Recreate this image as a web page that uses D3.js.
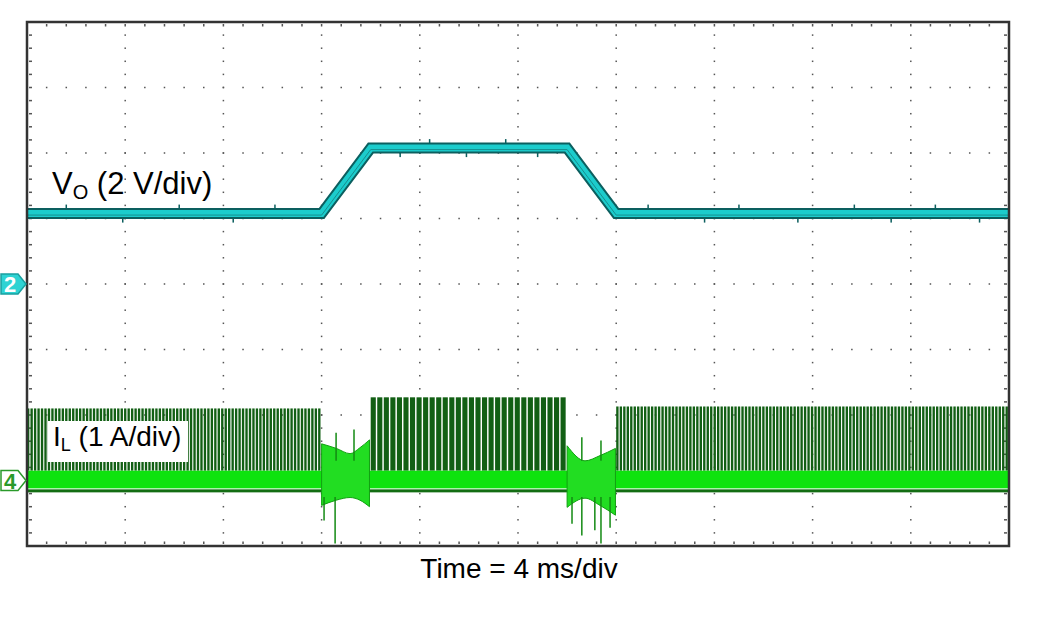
<!DOCTYPE html>
<meta charset="utf-8">
<script src="https://d3js.org/d3.v7.min.js"></script>
<style>
  body { margin: 0; background: #fff; }
  text { font-family: "Liberation Sans", Arial, sans-serif; }
</style>
<div id="scope"></div>
<script>

// time axis: 4 ms/div, 10 divisions
var timeRange = [0, 40];

// Vo trace (ms, V)
var voTime = [0, 12.0, 14.0, 22.0, 24.0, 40];
var voVolts = [2.15, 2.15, 4.15, 4.15, 2.15, 2.15];

// small noise ticks on Vo (ms)
var voNoiseTime = [1.6, 3.9, 6.2, 8.4, 10.1, 15.2, 16.4, 17.9, 19.5, 20.8, 25.3, 27.6, 29.0, 31.4, 33.7, 35.2, 37.0, 38.8];

// IL switching bursts
var burstStart = [0, 14.0, 24.0];
var burstEnd = [12.0, 22.0, 40];
var burstCount = [85, 30, 113];
var burstPeak = [1.10, 1.27, 1.13];
var burstDuty = [0.68, 0.78, 0.68];

// IL baseline band (A)
var bandTop = 0.15, bandBottom = -0.12;

// transition envelopes (ms, top A, bottom A)
var env1Time = [12.0, 12.6, 13.16, 13.56, 13.95];
var env1Top = [0.56, 0.49, 0.41, 0.50, 0.62];
var env1Bottom = [-0.38, -0.30, -0.26, -0.30, -0.40];
var env2Time = [22.0, 22.73, 23.34, 23.97];
var env2Top = [0.53, 0.30, 0.38, 0.49];
var env2Bottom = [-0.41, -0.27, -0.38, -0.53];

// spikes inside transitions (ms, A)
var spikeTime = [12.1, 12.55, 12.59, 13.32, 22.2, 22.6, 22.6, 23.13, 23.38, 23.38, 23.75];
var spikeAmp = [-0.61, -0.96, 0.73, 0.78, -0.66, 0.66, -0.84, -0.76, 0.61, -0.96, -0.72];

var W = 1047, H = 628;
var pLeft = 27, pRight = 1009, pTop = 22, pBottom = 546;

var svg = d3.select("#scope").append("svg")
  .attr("width", W).attr("height", H);

var x = d3.scaleLinear().domain(timeRange).range([pLeft, pRight]);
var yV = d3.scaleLinear().domain([-8, 8]).range([pBottom, pTop]);
var yI = d3.scaleLinear().domain([-1, 7]).range([pBottom, pTop]);

var divX = (pRight - pLeft) / 10, divY = (pBottom - pTop) / 8;

// dotted grid
var grid = svg.append("g").attr("fill", "#555");
for (var i = 1; i < 10; i++) {
  for (var k = 0; k <= 40; k++) {
    grid.append("rect").attr("x", pLeft + i * divX - 0.75)
      .attr("y", pTop + k * divY / 5 - 0.75).attr("width", 1.5).attr("height", 1.5);
  }
}
for (var j = 1; j < 8; j++) {
  for (var k = 0; k <= 50; k++) {
    grid.append("rect").attr("x", pLeft + k * divX / 5 - 0.75)
      .attr("y", pTop + j * divY - 0.75).attr("width", 1.5).attr("height", 1.5);
  }
}
// small edge ticks
var ticks = svg.append("g").attr("fill", "#555");
for (var k = 1; k < 50; k++) {
  var tx = pLeft + k * divX / 5;
  ticks.append("rect").attr("x", tx - 0.75).attr("y", pTop + 2).attr("width", 1.5).attr("height", 2.5);
  ticks.append("rect").attr("x", tx - 0.75).attr("y", pBottom - 4.5).attr("width", 1.5).attr("height", 2.5);
}
for (var k = 1; k < 40; k++) {
  var ty = pTop + k * divY / 5;
  ticks.append("rect").attr("x", pLeft + 2).attr("y", ty - 0.75).attr("width", 3).attr("height", 1.5);
  ticks.append("rect").attr("x", pRight - 5).attr("y", ty - 0.75).attr("width", 3).attr("height", 1.5);
}

// IL bursts
var pulses = svg.append("g");
burstStart.forEach(function(s, b) {
  var period = (burstEnd[b] - s) / burstCount[b];
  for (var n = 0; n < burstCount[b]; n++) {
    var t0 = s + n * period;
    pulses.append("rect")
      .attr("x", x(t0))
      .attr("y", yI(burstPeak[b]))
      .attr("width", x(t0 + period * burstDuty[b]) - x(t0))
      .attr("height", yI(bandTop) - yI(burstPeak[b]))
      .attr("fill", "#125f14");
  }
});

// IL baseline band
svg.append("rect").attr("x", x(0)).attr("width", x(40) - x(0))
  .attr("y", yI(bandBottom) + 1).attr("height", 3).attr("fill", "#136d13");
svg.append("rect").attr("x", x(0)).attr("width", x(40) - x(0))
  .attr("y", yI(bandTop)).attr("height", yI(bandBottom) - yI(bandTop))
  .attr("fill", "#0ee30e");

// transition envelopes
var area = d3.area()
  .curve(d3.curveMonotoneX)
  .x(function(d) { return x(d[0]); })
  .y0(function(d) { return yI(d[2]); })
  .y1(function(d) { return yI(d[1]); });
[[env1Time, env1Top, env1Bottom], [env2Time, env2Top, env2Bottom]].forEach(function(e) {
  var pts = e[0].map(function(t, i) { return [t, e[1][i], e[2][i]]; });
  svg.append("path").datum(pts).attr("d", area)
    .attr("fill", "#22dd22").attr("stroke", "#12a012").attr("stroke-width", 1);
});
svg.append("g").selectAll("line").data(spikeTime).join("line")
  .attr("x1", function(d) { return x(d); }).attr("x2", function(d) { return x(d); })
  .attr("y1", function(d, i) { return yI(spikeAmp[i] > 0 ? 0.3 : -0.25); })
  .attr("y2", function(d, i) { return yI(spikeAmp[i]); })
  .attr("stroke", "#138a13").attr("stroke-width", 1.5);

// Vo trace
var voPts = voTime.map(function(t, i) { return [t, voVolts[i]]; });
var line = d3.line().x(function(d) { return x(d[0]); }).y(function(d) { return yV(d[1]); });
svg.append("path").datum(voPts).attr("d", line)
  .attr("fill", "none").attr("stroke", "#0c5f5f").attr("stroke-width", 11);
svg.append("path").datum(voPts).attr("d", line)
  .attr("fill", "none").attr("stroke", "#1ccccc").attr("stroke-width", 7);
svg.append("path").datum(voPts).attr("d", line).attr("transform", "translate(0,1.5)")
  .attr("fill", "none").attr("stroke", "#168f8f").attr("stroke-width", 1);
// noise ticks
var voAt = function(t) {
  var i = d3.bisectRight(voTime, t) - 1;
  var f = (t - voTime[i]) / (voTime[i + 1] - voTime[i]);
  return voVolts[i] + f * (voVolts[i + 1] - voVolts[i]);
};
svg.append("g").selectAll("rect").data(voNoiseTime).join("rect")
  .attr("x", function(d) { return x(d) - 0.75; })
  .attr("y", function(d, i) { return yV(voAt(d)) + (i % 2 ? 5 : -9); })
  .attr("width", 1.5).attr("height", 4)
  .attr("fill", "#0c5f5f");

// frame
svg.append("rect").attr("x", pLeft).attr("y", pTop)
  .attr("width", pRight - pLeft).attr("height", pBottom - pTop)
  .attr("fill", "none").attr("stroke", "#333").attr("stroke-width", 2.5);

// labels
var vo = svg.append("text").attr("x", 52).attr("y", 194).attr("font-size", 31).attr("fill", "#000");
vo.append("tspan").text("V");
vo.append("tspan").text("O").attr("font-size", 20).attr("dy", 5);
vo.append("tspan").text(" (2 V/div)").attr("dy", -5);

svg.append("rect").attr("x", 48).attr("y", 421).attr("width", 140).attr("height", 41).attr("fill", "#fff");
var il = svg.append("text").attr("x", 53).attr("y", 446).attr("font-size", 28).attr("fill", "#000");
il.append("tspan").text("I");
il.append("tspan").text("L").attr("font-size", 18).attr("dy", 5);
il.append("tspan").text(" (1 A/div)").attr("dy", -5);

svg.append("text").attr("x", 519).attr("y", 578).attr("text-anchor", "middle")
  .attr("font-size", 28).attr("fill", "#000").text("Time = 4 ms/div");

// channel markers
function marker(yPos, fill, stroke, label, color) {
  var g = svg.append("g").attr("transform", "translate(0," + yPos + ")");
  g.append("path").attr("d", "M1,-10 L18,-10 L26,0 L18,10 L1,10 Z")
    .attr("fill", fill).attr("stroke", stroke).attr("stroke-width", 1.5);
  g.append("text").attr("x", 10).attr("y", 8).attr("text-anchor", "middle")
    .attr("font-size", 22).attr("font-weight", "bold").attr("fill", color).text(label);
}
marker(yV(0), "#2ed3d3", "#1aa0a0", "2", "#fff");
marker(yI(0), "#fff", "#2a9a2a", "4", "#2a9a2a");

</script>
